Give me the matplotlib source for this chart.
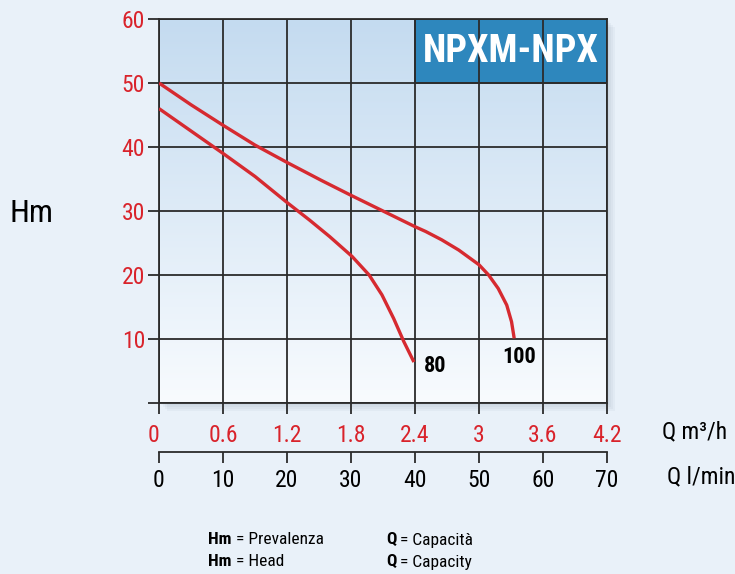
import numpy as np
import matplotlib
matplotlib.use("Agg")
import matplotlib.pyplot as plt
from matplotlib.patches import Rectangle
from matplotlib import font_manager

# ---- data ----
q_m3h_ticks = [0, 0.6, 1.2, 1.8, 2.4, 3.0, 3.6, 4.2]
q_m3h_labels = ["0", "0.6", "1.2", "1.8", "2.4", "3", "3.6", "4.2"]
q_lmin_ticks = [0, 10, 20, 30, 40, 50, 60, 70]
h_ticks = [0, 10, 20, 30, 40, 50, 60]

q100 = [0.0, 0.3, 0.6, 0.9, 1.21, 1.52, 1.80, 2.10, 2.40, 2.50, 2.65, 2.81, 3.0, 3.09, 3.18, 3.26, 3.305, 3.33]
h100 = [50.0, 46.6, 43.4, 40.3, 37.5, 34.8, 32.45, 30.0, 27.55, 26.8, 25.5, 23.9, 21.6, 20.0, 17.9, 15.3, 12.7, 10.1]

q80 = [0.0, 0.3, 0.6, 0.9, 1.21, 1.41, 1.60, 1.81, 1.97, 2.09, 2.20, 2.295, 2.39]
h80 = [46.0, 42.5, 39.0, 35.4, 31.2, 28.6, 26.0, 22.9, 20.0, 16.9, 13.2, 9.6, 6.4]

title = "NPXM-NPX"

names = {f.name for f in font_manager.fontManager.ttflist}
cands = ["Roboto Condensed", "Liberation Sans Narrow", "Open Sans Condensed", "Roboto"]
NARROW = next((c for c in cands if c in names), "DejaVu Sans")

RED = "#d9232b"
CURVE = "#d62a30"
GRID = "#2b2b2b"
FIGBG = "#e9f1f9"

W, H = 735, 574
fig = plt.figure(figsize=(W / 100, H / 100), dpi=100, facecolor=FIGBG)

def fx(px):
    return px / W

def fy(py):
    return 1 - py / H

left, right, top, bottom = 159, 607, 19, 403
ax = fig.add_axes([fx(left), fy(bottom), fx(right) - fx(left), fy(top) - fy(bottom)], zorder=2)

# soft shadow behind plot area
for i in range(4):
    d = 2 + 2 * i
    fig.add_artist(Rectangle((fx(left + d), fy(bottom + d)), fx(right) - fx(left), fy(top) - fy(bottom),
                             transform=fig.transFigure, facecolor="#5a6f86", alpha=0.05,
                             edgecolor="none", zorder=-5))

ax.set_xlim(0, 4.2)
ax.set_ylim(0, 60)

# gradient background
grad = np.linspace(0, 1, 256).reshape(-1, 1)
c_top = np.array([196, 219, 240]) / 255
c_bot = np.array([248, 251, 254]) / 255
img = c_top[None, None, :] * (1 - grad[:, :, None]) + c_bot[None, None, :] * grad[:, :, None]
ax.imshow(img, extent=[0, 4.2, 0, 60], aspect="auto", origin="upper", zorder=0)

# title box
ax.add_patch(Rectangle((2.4, 50), 1.8, 10, facecolor="#2e87bd", edgecolor=GRID, lw=1.2, zorder=2))
ax.text(3.3, 55, title, color="white", fontsize=27.5, fontweight="bold", family=NARROW,
        ha="center", va="center", zorder=3)

# grid & ticks
ax.set_xticks(q_m3h_ticks)
ax.set_yticks(h_ticks)
ax.grid(True, color=GRID, lw=1.3, zorder=1)
ax.set_axisbelow(False)
for s in ax.spines.values():
    s.set_color(GRID)
    s.set_linewidth(1.3)
ax.tick_params(axis="both", direction="out", length=8, width=1.3, color=GRID)
ax.tick_params(axis="x", pad=7, labelsize=17, labelcolor=RED)
ax.tick_params(axis="y", pad=2, labelsize=17, labelcolor=RED)
ax.set_xticklabels(q_m3h_labels, family=NARROW)
ax.set_yticklabels([""] + [str(v) for v in h_ticks[1:]], family=NARROW)
ax.get_xticklabels()[0].set_ha("right")

# curves
ax.plot(q100, h100, color=CURVE, lw=2.4, solid_capstyle="butt", solid_joinstyle="round", zorder=4)
ax.plot(q80, h80, color=CURVE, lw=2.4, solid_capstyle="butt", solid_joinstyle="round", zorder=4)
ax.text(2.48, 5.8, "80", fontsize=16, fontweight="bold", family=NARROW, ha="left", va="center", zorder=5)
ax.text(3.22, 7.2, "100", fontsize=16, fontweight="bold", family=NARROW, ha="left", va="center", zorder=5)

# second x axis: l/min
ax2 = fig.add_axes([fx(left), fy(452), fx(right) - fx(left), 0.0001])
ax2.set_facecolor("none")
ax2.set_xlim(0, 70)
ax2.set_yticks([])
for k in ["top", "left", "right"]:
    ax2.spines[k].set_visible(False)
ax2.spines["bottom"].set_color(GRID)
ax2.spines["bottom"].set_linewidth(1.3)
ax2.set_xticks(q_lmin_ticks)
ax2.set_xticklabels([str(v) for v in q_lmin_ticks], family=NARROW)
ax2.tick_params(axis="x", direction="out", length=8, width=1.3, color=GRID, pad=4,
                labelsize=17, labelcolor="black")

# axis titles
fig.text(fx(662), fy(432), "Q m³/h", fontsize=17, family=NARROW, ha="left", va="center")
fig.text(fx(667), fy(477), "Q l/min", fontsize=17, family=NARROW, ha="left", va="center")
fig.text(fx(9), fy(214), "Hm", fontsize=23, family=NARROW, ha="left", va="center")

# legend notes
renderer = fig.canvas.get_renderer()
fs = 12.5
for (x, y, b, t) in [(208, 540, "Hm", " = Prevalenza"), (208, 562, "Hm", " = Head"),
                     (386, 540, "Q", " = Capacità"), (386, 562, "Q", " = Capacity")]:
    tb = fig.text(fx(x), fy(y), b, fontsize=fs, fontweight="bold", family=NARROW, ha="left", va="center")
    bb = tb.get_window_extent(renderer=renderer)
    fig.text(bb.x1 / W, fy(y), t, fontsize=fs, family=NARROW, ha="left", va="center")

fig.savefig("out.png", dpi=100, facecolor=FIGBG)
